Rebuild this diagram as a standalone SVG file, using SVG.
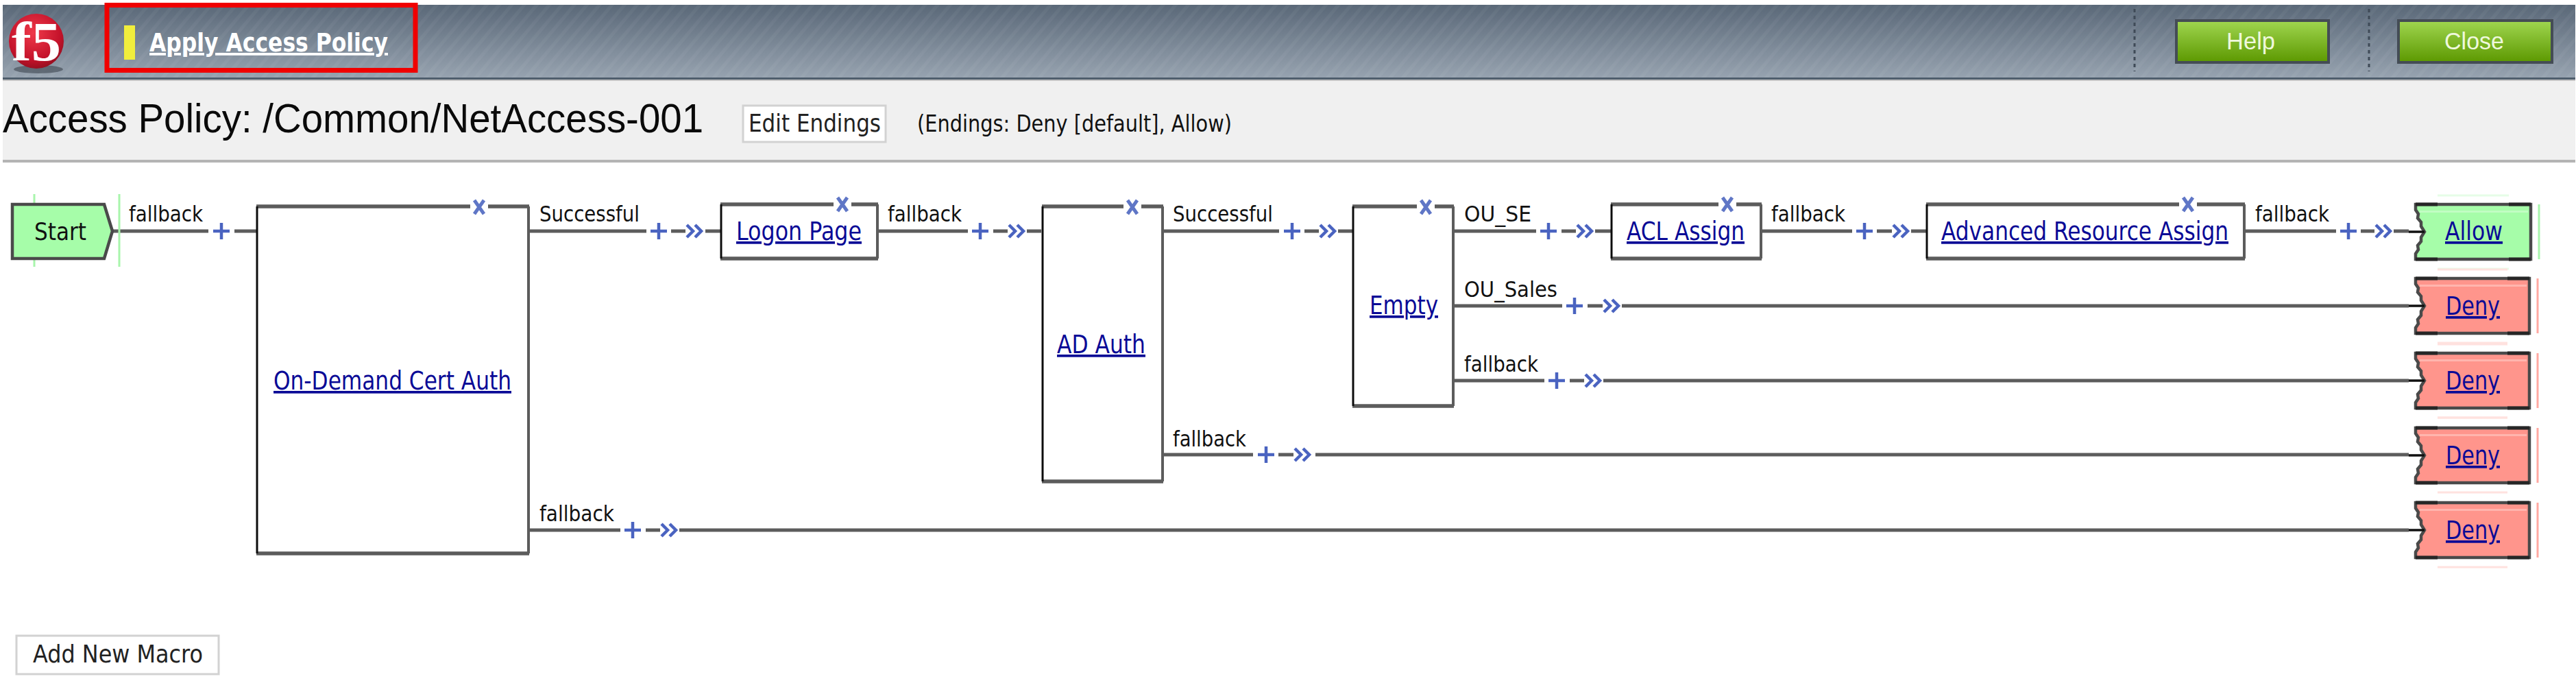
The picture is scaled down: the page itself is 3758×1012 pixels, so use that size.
<svg xmlns="http://www.w3.org/2000/svg" width="3758" height="1012" viewBox="0 0 3758 1012">
<style>
text{font-family:"DejaVu Sans","Liberation Sans",sans-serif}
.lbl{font-size:32px;fill:#111}
.link{font-size:37px;fill:#0a0a96;text-decoration:underline}
.btn{font-size:36px;fill:#222}
.btnbox{fill:#fff;stroke:#d2d2d2;stroke-width:3}
.go{fill:url(#green);stroke:#444c55;stroke-width:4}
.gotxt{font-family:"Liberation Sans",sans-serif;font-size:35px;fill:#eef8dc}
.conn{fill:none;stroke:#5c5c5c;stroke-width:5}
.entry{fill:none;stroke:#111;stroke-width:3.5}
.box{fill:#fff;stroke:none}
.top{stroke:#5c5c5c;stroke-width:5.5;fill:none}
.left{stroke:#0c0c0c;stroke-width:3;fill:none}
.right{stroke:#5c5c5c;stroke-width:4;fill:none}
.sym{fill:none;stroke:#4a63c0;stroke-width:4.5}
.xm{fill:none;stroke:#5f76c6;stroke-width:5}
.allow{fill:#a6fda9;stroke:#4a4a4a;stroke-width:4.5}
.deny{fill:#ff958c;stroke:#4a4a4a;stroke-width:4.5}
.sheen{fill:#fff;fill-opacity:.3}
.edge{fill:none;stroke:#262626;stroke-width:5}
.gl{stroke:#a8f5ac;stroke-width:3;fill:none}
.gf{stroke:#e6fde7;stroke-width:3;fill:none}
.rl{stroke:#ffa8a1;stroke-width:3;fill:none}
.rf{stroke:#ffe2df;stroke-width:3;fill:none}
</style>
<defs>
<linearGradient id="hdr" x1="0" y1="0" x2="0" y2="1"><stop offset="0" stop-color="#5a6878"/><stop offset="1" stop-color="#97a3b0"/></linearGradient>
<linearGradient id="green" x1="0" y1="0" x2="0" y2="1"><stop offset="0" stop-color="#a0d650"/><stop offset="1" stop-color="#5c9800"/></linearGradient>
<radialGradient id="ball" cx=".45" cy=".35" r=".75"><stop offset="0" stop-color="#ef3a4a"/><stop offset=".65" stop-color="#c4122a"/><stop offset="1" stop-color="#7e0e1c"/></radialGradient>
<pattern id="diag" width="14" height="14" patternUnits="userSpaceOnUse" patternTransform="rotate(40)"><rect width="14" height="14" fill="none"/><rect width="5" height="14" fill="#fff" fill-opacity=".04"/></pattern>
<g id="plus"><path class="sym" d="M-12 0H12M0 -12V12"/></g>
<g id="chev"><path class="sym" d="M-12 -9L-3 0L-12 9M0 -9L9 0L0 9"/></g>
<g id="xmark"><rect x="-13" y="-6" width="26" height="12" fill="#fff"/><path class="xm" d="M-7 -10L7 10M7 -10L-7 10"/></g>
<path id="notch" d="M0 0H166V80H0V72L4 66L3 60L8 54L8 48L13 40L8 32L8 26L3 20L4 14L0 8Z"/>
<path id="notchA" d="M0 0H168V80H0V72L4 66L3 60L8 54L8 48L13 40L8 32L8 26L3 20L4 14L0 8Z"/>
</defs>
<rect width="3758" height="1012" fill="#fff"/>

<g id="header">
<rect x="4" y="7" width="3753" height="107" fill="url(#hdr)"/>
<rect x="4" y="7" width="3753" height="107" fill="url(#diag)"/>
<rect x="4" y="113" width="3753" height="3" fill="#4f5e6d"/>
<rect x="4" y="116" width="3753" height="2" fill="#c4c4c4"/>
<path d="M3114 13V104M3456 13V104" fill="none" stroke="#3f4a57" stroke-width="3" stroke-dasharray="5 5"/>
</g>
<g id="logo">
<ellipse cx="56" cy="101" rx="36" ry="6" fill="#3d4650" fill-opacity=".6"/>
<ellipse cx="53" cy="60" rx="40" ry="40" fill="url(#ball)"/>
<text x="17" y="88" font-size="80" font-weight="700" textLength="72" lengthAdjust="spacingAndGlyphs" style="font-family:'Liberation Serif',serif;fill:#fff">f5</text>
</g>
<g id="apply-access-policy">
<rect x="156" y="7.5" width="450" height="95" fill="none" stroke="#f00000" stroke-width="7"/>
<rect x="181" y="37" width="16" height="50" fill="#f1ee3c"/>
<text x="218" y="75" font-size="38" font-weight="700" textLength="348" lengthAdjust="spacingAndGlyphs" style="fill:#fff;text-decoration:underline">Apply Access Policy</text>
</g>
<g id="help"><rect class="go" x="3175" y="30" width="222" height="61"/><text class="gotxt" x="3248" y="72" textLength="71" lengthAdjust="spacingAndGlyphs">Help</text></g>
<g id="close"><rect class="go" x="3499" y="30" width="224" height="61"/><text class="gotxt" x="3566" y="72" textLength="87" lengthAdjust="spacingAndGlyphs">Close</text></g>

<g id="title-bar">
<rect x="4" y="118" width="3753" height="115" fill="#f0f0f0"/>
<rect x="4" y="233" width="3753" height="4" fill="#b4b4b4"/>
<text x="4" y="193" font-size="60" textLength="1022" lengthAdjust="spacingAndGlyphs" style="font-family:'Liberation Sans',sans-serif;fill:#0a0a0a">Access Policy: /Common/NetAccess-001</text>
<rect class="btnbox" x="1084" y="154" width="208" height="53"/>
<text class="btn" x="1092" y="192" textLength="193" lengthAdjust="spacingAndGlyphs">Edit Endings</text>
<text x="1338" y="192" font-size="34" textLength="459" lengthAdjust="spacingAndGlyphs" style="fill:#111">(Endings: Deny [default], Allow)</text>
</g>

<g id="connectors">
<path class="conn" d="M165 337H304M342 337H375"/>
<path class="conn" d="M772 337H943M979 337H1000M1029 337H1051"/>
<path class="conn" d="M1281 337H1412M1449 337H1470M1498 337H1519"/>
<path class="conn" d="M1697 337H1866M1903 337H1924M1952 337H1973"/>
<path class="conn" d="M2121 337H2241M2278 337H2299M2327 337H2350"/>
<path class="conn" d="M2570 337H2702M2738 337H2760M2788 337H2810"/>
<path class="conn" d="M3275 337H3408M3444 337H3464M3492 337H3514"/>
<path class="conn" d="M2121 446H2279M2316 446H2338M2366 446H3514"/>
<path class="conn" d="M2121 555H2253M2290 555H2311M2339 555H3514"/>
<path class="conn" d="M1697 663H1828M1865 663H1887M1919 663H3514"/>
<path class="conn" d="M772 773H905M942 773H963M991 773H3514"/>
<use href="#plus" x="323" y="337"/>
<use href="#plus" x="961" y="337"/><use href="#chev" x="1014" y="337"/>
<use href="#plus" x="1430" y="337"/><use href="#chev" x="1484" y="337"/>
<use href="#plus" x="1885" y="337"/><use href="#chev" x="1938" y="337"/>
<use href="#plus" x="2259" y="337"/><use href="#chev" x="2313" y="337"/>
<use href="#plus" x="2720" y="337"/><use href="#chev" x="2774" y="337"/>
<use href="#plus" x="3426" y="337"/><use href="#chev" x="3478" y="337"/>
<use href="#plus" x="2297" y="446"/><use href="#chev" x="2352" y="446"/>
<use href="#plus" x="2271" y="555"/><use href="#chev" x="2325" y="555"/>
<use href="#plus" x="1847" y="663"/><use href="#chev" x="1901" y="663"/>
<use href="#plus" x="923" y="773"/><use href="#chev" x="977" y="773"/>
<text class="lbl" x="188" y="323" textLength="108" lengthAdjust="spacingAndGlyphs">fallback</text>
<text class="lbl" x="787" y="323" textLength="146" lengthAdjust="spacingAndGlyphs">Successful</text>
<text class="lbl" x="1295" y="323" textLength="108" lengthAdjust="spacingAndGlyphs">fallback</text>
<text class="lbl" x="1711" y="323" textLength="146" lengthAdjust="spacingAndGlyphs">Successful</text>
<text class="lbl" x="2136" y="323" textLength="98" lengthAdjust="spacingAndGlyphs">OU_SE</text>
<text class="lbl" x="2584" y="323" textLength="108" lengthAdjust="spacingAndGlyphs">fallback</text>
<text class="lbl" x="3290" y="323" textLength="108" lengthAdjust="spacingAndGlyphs">fallback</text>
<text class="lbl" x="2136" y="433" textLength="136" lengthAdjust="spacingAndGlyphs">OU_Sales</text>
<text class="lbl" x="2136" y="542" textLength="108" lengthAdjust="spacingAndGlyphs">fallback</text>
<text class="lbl" x="1711" y="651" textLength="107" lengthAdjust="spacingAndGlyphs">fallback</text>
<text class="lbl" x="787" y="760" textLength="109" lengthAdjust="spacingAndGlyphs">fallback</text>
</g>

<g id="start">
<path class="gl" d="M50 283V302M50 373V389M174 283V389"/>
<path d="M18 298H152L164 337L152 377H18Z" fill="#a6fda9" stroke="#4a4a4a" stroke-width="4.5"/>
<text x="50" y="350" font-size="35" textLength="76" lengthAdjust="spacingAndGlyphs" style="fill:#111">Start</text>
</g>

<g id="on-demand-cert-auth">
<rect class="box" x="374" y="301" width="398" height="506"/>
<path class="top" d="M374 301H772M374 807H772"/><path class="left" d="M375 301V807"/><path class="right" d="M771 301V807"/>
<use href="#xmark" x="699" y="302"/>
<text class="link" x="399" y="568" textLength="347" lengthAdjust="spacingAndGlyphs">On-Demand Cert Auth</text>
</g>
<g id="logon-page">
<rect class="box" x="1051" y="298" width="230" height="79"/>
<path class="top" d="M1051 298H1281M1051 377H1281"/><path class="left" d="M1052 298V377"/><path class="right" d="M1280 298V377"/>
<use href="#xmark" x="1229" y="298"/>
<text class="link" x="1074" y="350" textLength="183" lengthAdjust="spacingAndGlyphs">Logon Page</text>
</g>
<g id="ad-auth">
<rect class="box" x="1520" y="301" width="177" height="401"/>
<path class="top" d="M1520 301H1697M1520 702H1697"/><path class="left" d="M1521 301V702"/><path class="right" d="M1696 301V702"/>
<use href="#xmark" x="1652" y="302"/>
<text class="link" x="1542" y="515" textLength="129" lengthAdjust="spacingAndGlyphs">AD Auth</text>
</g>
<g id="empty">
<rect class="box" x="1973" y="301" width="148" height="291"/>
<path class="top" d="M1973 301H2121M1973 592H2121"/><path class="left" d="M1974 301V592"/><path class="right" d="M2120 301V592"/>
<use href="#xmark" x="2080" y="302"/>
<text class="link" x="1998" y="458" textLength="100" lengthAdjust="spacingAndGlyphs">Empty</text>
</g>
<g id="acl-assign">
<rect class="box" x="2350" y="298" width="220" height="79"/>
<path class="top" d="M2350 298H2570M2350 377H2570"/><path class="left" d="M2351 298V377"/><path class="right" d="M2569 298V377"/>
<use href="#xmark" x="2520" y="298"/>
<text class="link" x="2373" y="350" textLength="172" lengthAdjust="spacingAndGlyphs">ACL Assign</text>
</g>
<g id="advanced-resource-assign">
<rect class="box" x="2810" y="298" width="465" height="79"/>
<path class="top" d="M2810 298H3275M2810 377H3275"/><path class="left" d="M2811 298V377"/><path class="right" d="M3274 298V377"/>
<use href="#xmark" x="3192" y="298"/>
<text class="link" x="2832" y="350" textLength="419" lengthAdjust="spacingAndGlyphs">Advanced Resource Assign</text>
</g>

<g id="end-allow" transform="translate(3524 298)">
<path class="gf" d="M32 -13H136M32 94H136"/><path class="gl" d="M180 0V80"/>
<use href="#notchA" class="allow"/>
<rect class="sheen" x="6" y="9" width="158" height="3"/>
<path class="edge" d="M0 0H32M136 0H168M0 80H32M136 80H168"/>
<path class="entry" d="M-10 40H13"/>
<text class="link" x="43" y="52" textLength="84" lengthAdjust="spacingAndGlyphs">Allow</text>
</g>
<g id="end-deny-1" transform="translate(3524 406)">
<path class="rf" d="M32 -13H134M32 94H134"/><path class="rl" d="M178 0V80"/>
<use href="#notch" class="deny"/>
<rect class="sheen" x="6" y="9" width="156" height="3"/>
<path class="edge" d="M0 0H32M134 0H166M0 80H32M134 80H166"/>
<path class="entry" d="M-10 40H13"/>
<text class="link" x="44" y="53" textLength="79" lengthAdjust="spacingAndGlyphs">Deny</text>
</g>
<g id="end-deny-2" transform="translate(3524 515)">
<path class="rf" d="M32 -13H134M32 94H134"/><path class="rl" d="M178 0V80"/>
<use href="#notch" class="deny"/>
<rect class="sheen" x="6" y="9" width="156" height="3"/>
<path class="edge" d="M0 0H32M134 0H166M0 80H32M134 80H166"/>
<path class="entry" d="M-10 40H13"/>
<text class="link" x="44" y="53" textLength="79" lengthAdjust="spacingAndGlyphs">Deny</text>
</g>
<g id="end-deny-3" transform="translate(3524 624)">
<path class="rf" d="M32 -15H134M32 94H134"/><path class="rl" d="M178 0V80"/>
<use href="#notch" class="deny"/>
<rect class="sheen" x="6" y="9" width="156" height="3"/>
<path class="edge" d="M0 0H32M134 0H166M0 80H32M134 80H166"/>
<path class="entry" d="M-10 40H13"/>
<text class="link" x="44" y="53" textLength="79" lengthAdjust="spacingAndGlyphs">Deny</text>
</g>
<g id="end-deny-4" transform="translate(3524 733)">
<path class="rf" d="M32 94H134"/><path class="rl" d="M178 0V80"/>
<use href="#notch" class="deny"/>
<rect class="sheen" x="6" y="9" width="156" height="3"/>
<path class="edge" d="M0 0H32M134 0H166M0 80H32M134 80H166"/>
<path class="entry" d="M-10 40H13"/>
<text class="link" x="44" y="53" textLength="79" lengthAdjust="spacingAndGlyphs">Deny</text>
</g>

<g id="add-new-macro">
<rect class="btnbox" x="24" y="927" width="295" height="56"/>
<text class="btn" x="48" y="966" textLength="248" lengthAdjust="spacingAndGlyphs">Add New Macro</text>
</g>
</svg>
